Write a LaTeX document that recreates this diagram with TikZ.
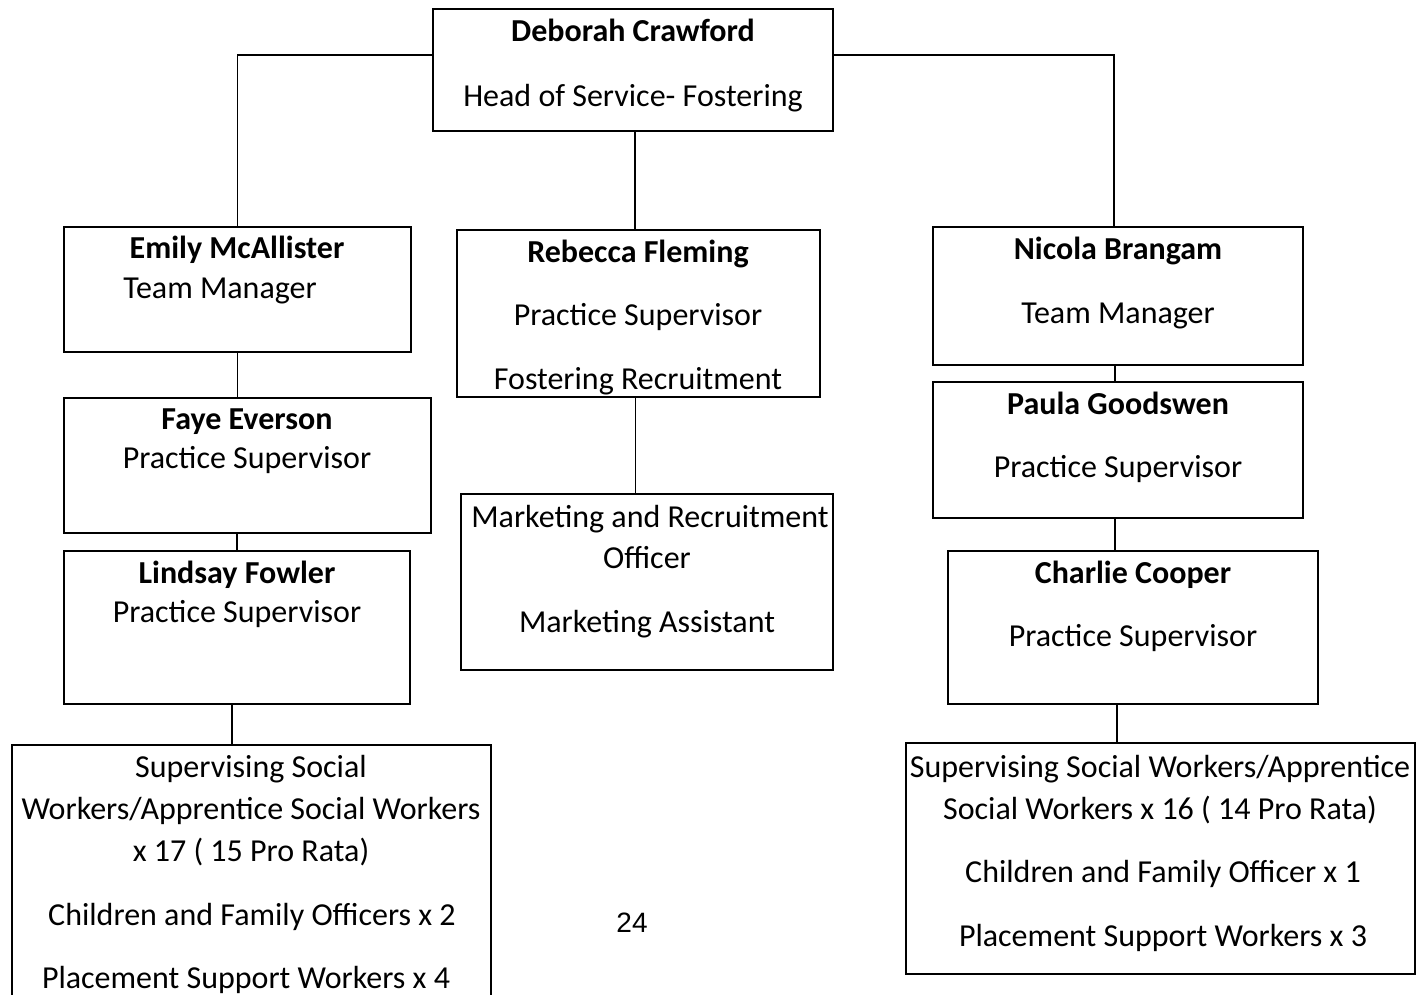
\documentclass[tikz,border=0pt]{standalone}
\usepackage{fontspec}
\setmainfont{Carlito}
\newfontfamily\pagefont{Liberation Sans}
\newcommand\orgsize{\fontsize{32}{38}\selectfont}
\tikzset{
  box/.style={draw, line width=1.8pt, inner sep=0pt},
  namelabel/.style={font=\orgsize\bfseries, anchor=mid, yshift=-8pt, inner sep=0pt},
  rolelabel/.style={font=\orgsize, anchor=mid, yshift=-8pt, inner sep=0pt},
  link/.style={line width=1.8pt}
}
\begin{document}
\begin{tikzpicture}[x=1pt, y=-1pt]
			% Page frame
			\clip (0,0) rectangle (1424,994);
			\fill[white] (0,0) rectangle (1424,994);

			% Boxes
			\node[box, minimum width=400pt, minimum height=122pt] (deb) at (633,70) {};
			\node[box, minimum width=347pt, minimum height=125pt] (emily) at (237.5,289.5) {};
			\node[box, minimum width=367pt, minimum height=135pt] (faye) at (247.5,465.5) {};
			\node[box, minimum width=346pt, minimum height=153pt] (lindsay) at (237,627.5) {};
			\node[box, minimum width=479pt, minimum height=265pt] (swleft) at (251.5,877.5) {};
			\node[box, minimum width=363pt, minimum height=167pt] (rebecca) at (638.5,313.5) {};
			\node[box, minimum width=372pt, minimum height=176pt] (marketing) at (647,582) {};
			\node[box, minimum width=370pt, minimum height=138pt] (nicola) at (1118,296) {};
			\node[box, minimum width=370pt, minimum height=136pt] (paula) at (1118,450) {};
			\node[box, minimum width=370pt, minimum height=153pt] (charlie) at (1133,627.5) {};
			\node[box, minimum width=509pt, minimum height=231pt] (swright) at (1160.5,858.5) {};

			% Connectors
			\draw[link] (deb.west |- 0,55) -| (emily.north);
			\draw[link] (deb.east |- 0,55) -| ([xshift=-4pt]nicola.north);
			\draw[link] ([xshift=2pt]deb.south) -- ([xshift=2pt]deb.south |- rebecca.north);
			\draw[link] (emily.south) -- (emily.south |- faye.north);
			\draw[link] (lindsay.north) -- (lindsay.north |- faye.south);
			\draw[link] ([xshift=-5pt]lindsay.south) -- ([xshift=-5pt]lindsay.south |- swleft.north);
			\draw[link] ([xshift=-3pt]rebecca.south) -- ([xshift=-3pt]rebecca.south |- marketing.north);
			\draw[link] ([xshift=-3pt]nicola.south) -- ([xshift=-3pt]nicola.south |- paula.north);
			\draw[link] ([xshift=-3pt]paula.south) -- ([xshift=-3pt]paula.south |- charlie.north);
			\draw[link] ([xshift=-16pt]charlie.south) -- ([xshift=-16pt]charlie.south |- swright.north);

			% Labels
			\node[namelabel] (deb-name) at (633,31) {Deborah Crawford};
			\node[rolelabel] (deb-role) at (633,96) {Head of Service- Fostering};
			\node[namelabel] (emily-name) at (237,248) {Emily McAllister};
			\node[rolelabel] (emily-role) at (220,288) {Team Manager};
			\node[namelabel] (faye-name) at (247,419) {Faye Everson};
			\node[rolelabel] (faye-role) at (247,458) {Practice Supervisor};
			\node[namelabel] (lindsay-name) at (237,573) {Lindsay Fowler};
			\node[rolelabel] (lindsay-role) at (237,612) {Practice Supervisor};
			\node[rolelabel] (swleft-a) at (251,767) {Supervising Social};
			\node[rolelabel] (swleft-b) at (251,809) {Workers/Apprentice Social Workers};
			\node[rolelabel] (swleft-c) at (251,851) {x 17 ( 15 Pro Rata)};
			\node[rolelabel] (swleft-d) at (252,915) {Children and Family Officers x 2};
			\node[rolelabel] (swleft-e) at (246,978) {Placement Support Workers x 4};
			\node[namelabel] (rebecca-name) at (638,252) {Rebecca Fleming};
			\node[rolelabel] (rebecca-role) at (638,315) {Practice Supervisor};
			\node[rolelabel] (rebecca-team) at (638,379) {Fostering Recruitment};
			\node[rolelabel] (marketing-a) at (650,517) {Marketing and Recruitment};
			\node[rolelabel] (marketing-b) at (647,558) {Officer};
			\node[rolelabel] (marketing-c) at (647,622) {Marketing Assistant};
			\node[namelabel] (nicola-name) at (1118,249) {Nicola Brangam};
			\node[rolelabel] (nicola-role) at (1118,313) {Team Manager};
			\node[namelabel] (paula-name) at (1118,404) {Paula Goodswen};
			\node[rolelabel] (paula-role) at (1118,467) {Practice Supervisor};
			\node[namelabel] (charlie-name) at (1133,573) {Charlie Cooper};
			\node[rolelabel] (charlie-role) at (1133,636) {Practice Supervisor};
			\node[rolelabel] (swright-a) at (1160,767) {Supervising Social Workers/Apprentice};
			\node[rolelabel] (swright-b) at (1160,809) {Social Workers x 16 ( 14 Pro Rata)};
			\node[rolelabel] (swright-c) at (1163,872) {Children and Family Officer x 1};
			\node[rolelabel] (swright-d) at (1163,936) {Placement Support Workers x 3};
			\node[rolelabel, font=\pagefont\fontsize{28}{32}\selectfont] (pageno) at (632,922) {24};
		\end{tikzpicture}
\end{document}
